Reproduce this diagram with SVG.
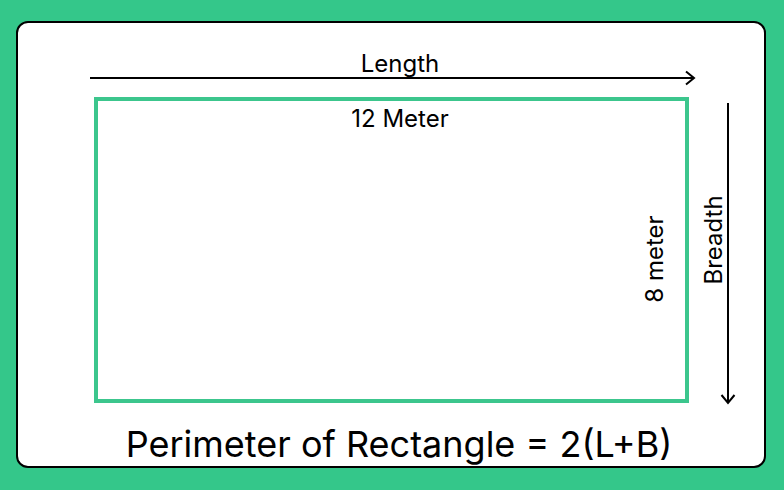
<svg xmlns="http://www.w3.org/2000/svg" width="784" height="490" viewBox="0 0 784 490">
<style>
text{font-family:Inter,"Noto Sans",sans-serif;fill:#000}
.lbl{font-size:24px}
.conn{stroke:#000;stroke-width:2;fill:none}
</style>
<defs>
<marker id="arr" markerWidth="14" markerHeight="16" refX="11" refY="8" orient="auto" markerUnits="userSpaceOnUse">
<path d="M3,1.5 L11,8 L3,14.5" fill="none" stroke="#000" stroke-width="2"/>
</marker>
</defs>
<rect width="784" height="490" fill="#34C78A"/>
<g id="panel"><rect x="17" y="22" width="748" height="445" rx="11" fill="#fff" stroke="#000" stroke-width="2"/></g>
<g id="rectangle"><rect x="96" y="99" width="591" height="302" fill="none" stroke="#3CC68D" stroke-width="4"/>
<text class="lbl" x="400" y="127" text-anchor="middle">12 Meter</text>
<text class="lbl" transform="translate(663,259) rotate(-90)" text-anchor="middle">8 meter</text>
</g>
<g id="connectors">
<line class="conn" x1="90" y1="78" x2="694" y2="78" marker-end="url(#arr)"/>
<line class="conn" x1="728" y1="103" x2="728" y2="403" marker-end="url(#arr)"/>
</g>
<g id="length"><text class="lbl" x="400" y="72" text-anchor="middle">Length</text></g>
<g id="breadth"><text class="lbl" transform="translate(722,240) rotate(-90)" text-anchor="middle">Breadth</text></g>
<g id="formula"><text x="399" y="457" text-anchor="middle" font-size="36">Perimeter of Rectangle = 2(L+B)</text></g>
</svg>
